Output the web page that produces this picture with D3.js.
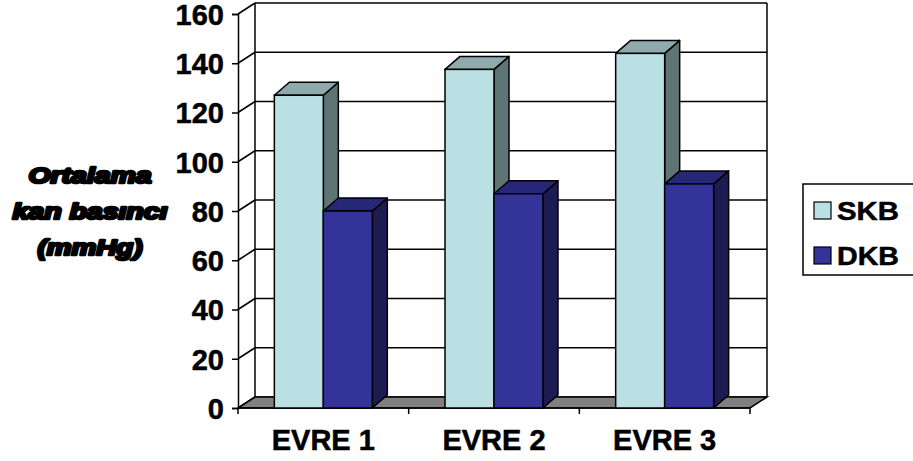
<!DOCTYPE html>
<html>
<head>
<meta charset="utf-8">
<script src="https://cdn.jsdelivr.net/npm/d3@7/dist/d3.min.js"></script>
<style>
  html, body { margin: 0; padding: 0; background: #fff; }
  svg { display: block; }
  text { font-family: "Liberation Sans", Arial, sans-serif; font-weight: bold; fill: #000; }
</style>
</head>
<body>
<svg id="chart" width="913" height="461"></svg>
<script>
// ---- data ----
const categories = ["EVRE 1", "EVRE 2", "EVRE 3"];
const seriesNames = ["SKB", "DKB"];
const skbValues = [127, 137.5, 144];
const dkbValues = [80, 87, 91];
const yTicks = [0, 20, 40, 60, 80, 100, 120, 140, 160];
const yTitleLines = ["Ortalama", "kan basıncı", "(mmHg)"];

const seriesValues = [skbValues, dkbValues];
const faceColors = ["#BBE0E3", "#333399"];
const topColors  = ["#8EAAAC", "#27277A"];
const sideColors = ["#5F7475", "#1C1C52"];

const svg = d3.select("#chart");

// plot geometry
const x0 = d3.scaleBand().domain(categories).range([238, 750]).padding(0);
const x1 = d3.scaleBand().domain(seriesNames).range([0, x0.bandwidth()]).paddingInner(0).paddingOuter(0.742);
const y = d3.scaleLinear().domain([0, 160]).range([408, 14]);

const wallDx = 17, wallDy = -11;   // depth of the walls/floor
const barDx = 15, barDy = -13;     // depth of the bars

const yMin = y(0), yMax = y(160);
const xL = x0.range()[0], xR = x0.range()[1];

// back wall gridlines
const g = svg.append("g");
g.selectAll("line.grid").data(yTicks).enter().append("line")
  .attr("x1", xL + wallDx).attr("x2", xR + wallDx)
  .attr("y1", d => y(d) + wallDy).attr("y2", d => y(d) + wallDy)
  .attr("stroke", "#000").attr("stroke-width", 1.5);
// side wall diagonals
g.selectAll("line.diag").data(yTicks).enter().append("line")
  .attr("x1", xL).attr("x2", xL + wallDx)
  .attr("y1", d => y(d)).attr("y2", d => y(d) + wallDy)
  .attr("stroke", "#000").attr("stroke-width", 1.5);
// back wall verticals
[xL + wallDx, xR + wallDx].forEach(xx => {
  g.append("line").attr("x1", xx).attr("x2", xx)
    .attr("y1", yMax + wallDy).attr("y2", yMin + wallDy)
    .attr("stroke", "#000").attr("stroke-width", 1.5);
});
// floor
g.append("path")
  .attr("d", `M${xL},${yMin} L${xR},${yMin} L${xR + wallDx},${yMin + wallDy} L${xL + wallDx},${yMin + wallDy} Z`)
  .attr("fill", "#808080").attr("stroke", "#000").attr("stroke-width", 1.5);

// y axis
const yAxis = d3.axisLeft(y).tickValues(yTicks).tickSize(6).tickPadding(8);
const ya = svg.append("g").attr("transform", `translate(${xL},0)`).call(yAxis);
ya.select(".domain").attr("stroke", "#000").attr("stroke-width", 1.5);
ya.selectAll(".tick line").attr("stroke", "#000").attr("stroke-width", 1.5);
ya.selectAll(".tick text").attr("font-size", 29).attr("font-family", "Liberation Sans, Arial, sans-serif")
  .attr("font-weight", "bold").attr("fill", "#000").attr("dy", "0.36em")
  .attr("stroke", "#000").attr("stroke-width", 0.5);

// x axis
const xa = svg.append("g").attr("transform", `translate(0,${yMin})`);
xa.append("line").attr("x1", xL).attr("x2", xR).attr("y1", 0).attr("y2", 0)
  .attr("stroke", "#000").attr("stroke-width", 1.5);
const boundaries = categories.map(c => x0(c)).concat([xR]);
xa.selectAll("line.tk").data(boundaries).enter().append("line")
  .attr("x1", d => d).attr("x2", d => d).attr("y1", 0).attr("y2", 6)
  .attr("stroke", "#000").attr("stroke-width", 1.5);
xa.selectAll("text.cat").data(categories).enter().append("text")
  .attr("x", d => x0(d) + x0.bandwidth() / 2).attr("y", 42)
  .attr("text-anchor", "middle").attr("font-size", 29)
  .attr("stroke", "#000").attr("stroke-width", 0.5)
  .text(d => d);

// bars
const bars = [];
categories.forEach((c, ci) => {
  seriesNames.forEach((s, si) => {
    bars.push({ cat: c, ser: s, si: si, value: seriesValues[si][ci] });
  });
});
const bg = svg.append("g");
bars.forEach(b => {
  const xa_ = x0(b.cat) + x1(b.ser);
  const xb_ = xa_ + x1.bandwidth();
  const yt = y(b.value), yb = y(0);
  const grp = bg.append("g");
  // side
  grp.append("path")
    .attr("d", `M${xb_},${yt} L${xb_ + barDx},${yt + barDy} L${xb_ + barDx},${yb + barDy} L${xb_},${yb} Z`)
    .attr("fill", sideColors[b.si]).attr("stroke", "#000").attr("stroke-width", 1.5).attr("stroke-linejoin", "round");
  // top
  grp.append("path")
    .attr("d", `M${xa_},${yt} L${xa_ + barDx},${yt + barDy} L${xb_ + barDx},${yt + barDy} L${xb_},${yt} Z`)
    .attr("fill", topColors[b.si]).attr("stroke", "#000").attr("stroke-width", 1.5).attr("stroke-linejoin", "round");
  // front
  grp.append("rect")
    .attr("x", xa_).attr("y", yt).attr("width", xb_ - xa_).attr("height", yb - yt)
    .attr("fill", faceColors[b.si]).attr("stroke", "#000").attr("stroke-width", 1.5);
});

// y title
const ytg = svg.append("g");
const titleWidths = [123, 155, 105];
yTitleLines.forEach((t, i) => {
  ytg.append("text")
    .attr("x", 90).attr("y", 183 + i * 36)
    .attr("text-anchor", "middle")
    .attr("font-size", 22).attr("font-style", "italic")
    .attr("stroke", "#000").attr("stroke-width", 2.6).attr("stroke-linejoin", "round")
    .attr("textLength", titleWidths[i]).attr("lengthAdjust", "spacingAndGlyphs")
    .text(t);
});

// legend
const lg = svg.append("g");
lg.append("rect").attr("x", 803).attr("y", 184).attr("width", 130).attr("height", 91)
  .attr("fill", "#fff").attr("stroke", "#000").attr("stroke-width", 1.5);
seriesNames.forEach((s, i) => {
  const yy = 202 + i * 45;
  lg.append("rect").attr("x", 814).attr("y", yy).attr("width", 17).attr("height", 17)
    .attr("fill", faceColors[i]).attr("stroke", "#000").attr("stroke-width", 1.2);
  lg.append("text").attr("x", 837).attr("y", yy + 18).attr("font-size", 25)
    .attr("stroke", "#000").attr("stroke-width", 0.5)
    .attr("textLength", 62).attr("lengthAdjust", "spacingAndGlyphs")
    .text(s);
});
</script>
</body>
</html>
